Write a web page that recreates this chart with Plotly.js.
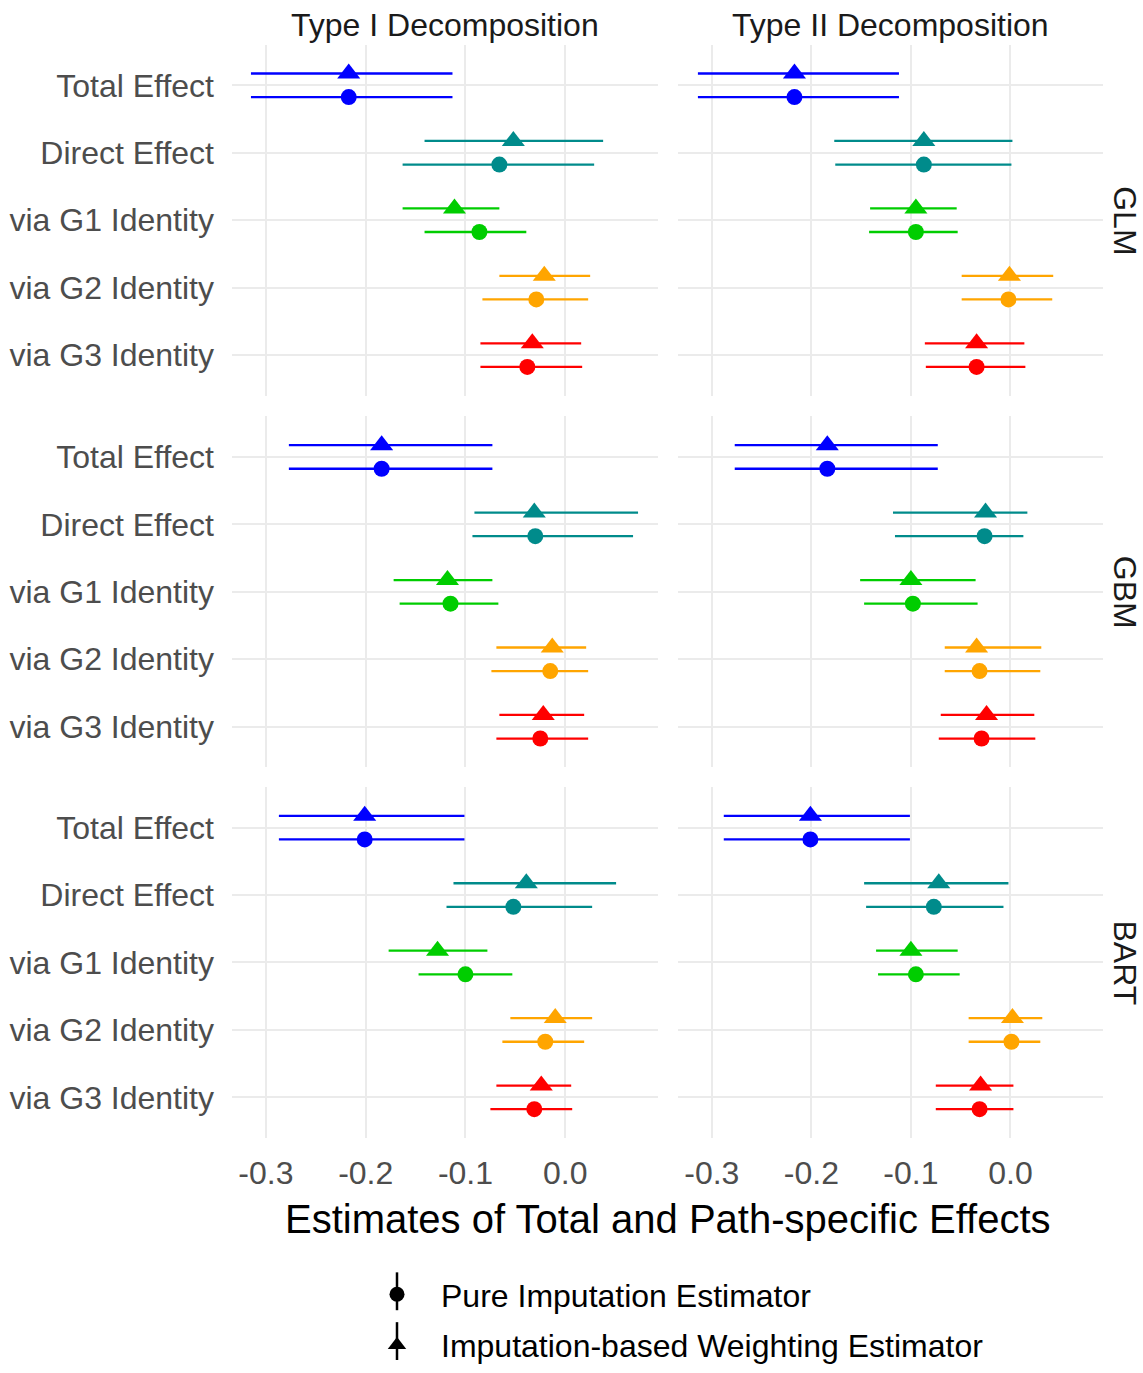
<!DOCTYPE html>
<html>
<head>
<meta charset="utf-8">
<script src="https://cdn.plot.ly/plotly-3.0.1.min.js"></script>
<style>html,body{margin:0;padding:0;background:#fff;}#chart{width:1143px;height:1373px;}</style>
</head>
<body>
<div id="chart"></div>
<script>
// ---------- data ----------
const categories = ['Total Effect', 'Direct Effect', 'via G1 Identity', 'via G2 Identity', 'via G3 Identity'];
const categoryColors = ['#0000FF', '#008B8B', '#00CD00', '#FFA500', '#FF0000'];
const models = ['GLM', 'GBM', 'BART'];
const decompositions = ['Type I Decomposition', 'Type II Decomposition'];
const estimatorNames = ['Pure Imputation Estimator', 'Imputation-based Weighting Estimator'];
const xTickVals = [-0.3, -0.2, -0.1, 0.0];
const xTickText = ['-0.3', '-0.2', '-0.1', '0.0'];

// GLM, Type I
const GLM_I_pure_est = [-0.217, -0.066, -0.086, -0.029, -0.038];
const GLM_I_pure_lo  = [-0.315, -0.163, -0.141, -0.083, -0.085];
const GLM_I_pure_hi  = [-0.113,  0.029, -0.039,  0.023,  0.017];
const GLM_I_wt_est   = [-0.217, -0.052, -0.111, -0.021, -0.033];
const GLM_I_wt_lo    = [-0.315, -0.141, -0.163, -0.066, -0.085];
const GLM_I_wt_hi    = [-0.113,  0.038, -0.066,  0.025,  0.016];
// GLM, Type II
const GLM_II_pure_est = [-0.217, -0.087, -0.095, -0.002, -0.034];
const GLM_II_pure_lo  = [-0.314, -0.176, -0.142, -0.049, -0.085];
const GLM_II_pure_hi  = [-0.112,  0.001, -0.053,  0.042,  0.015];
const GLM_II_wt_est   = [-0.217, -0.087, -0.095, -0.001, -0.034];
const GLM_II_wt_lo    = [-0.314, -0.177, -0.141, -0.049, -0.086];
const GLM_II_wt_hi    = [-0.112,  0.002, -0.054,  0.043,  0.014];
// GBM, Type I
const GBM_I_pure_est = [-0.184, -0.030, -0.115, -0.015, -0.025];
const GBM_I_pure_lo  = [-0.277, -0.093, -0.166, -0.074, -0.069];
const GBM_I_pure_hi  = [-0.073,  0.068, -0.067,  0.023,  0.023];
const GBM_I_wt_est   = [-0.184, -0.031, -0.118, -0.013, -0.022];
const GBM_I_wt_lo    = [-0.277, -0.091, -0.172, -0.069, -0.066];
const GBM_I_wt_hi    = [-0.073,  0.073, -0.073,  0.021,  0.019];
// GBM, Type II
const GBM_II_pure_est = [-0.184, -0.026, -0.098, -0.031, -0.029];
const GBM_II_pure_lo  = [-0.277, -0.116, -0.147, -0.066, -0.072];
const GBM_II_pure_hi  = [-0.073,  0.013, -0.033,  0.030,  0.025];
const GBM_II_wt_est   = [-0.184, -0.025, -0.100, -0.034, -0.024];
const GBM_II_wt_lo    = [-0.277, -0.118, -0.151, -0.066, -0.070];
const GBM_II_wt_hi    = [-0.073,  0.017, -0.035,  0.031,  0.024];
// BART, Type I
const BART_I_pure_est = [-0.201, -0.052, -0.100, -0.020, -0.031];
const BART_I_pure_lo  = [-0.287, -0.119, -0.147, -0.063, -0.075];
const BART_I_pure_hi  = [-0.101,  0.027, -0.053,  0.019,  0.007];
const BART_I_wt_est   = [-0.201, -0.039, -0.128, -0.010, -0.024];
const BART_I_wt_lo    = [-0.287, -0.112, -0.177, -0.055, -0.069];
const BART_I_wt_hi    = [-0.101,  0.051, -0.078,  0.027,  0.006];
// BART, Type II
const BART_II_pure_est = [-0.201, -0.077, -0.095,  0.001, -0.031];
const BART_II_pure_lo  = [-0.288, -0.145, -0.133, -0.042, -0.075];
const BART_II_pure_hi  = [-0.101, -0.007, -0.051,  0.030,  0.003];
const BART_II_wt_est   = [-0.201, -0.072, -0.100,  0.002, -0.030];
const BART_II_wt_lo    = [-0.288, -0.147, -0.135, -0.042, -0.075];
const BART_II_wt_hi    = [-0.101, -0.002, -0.053,  0.032,  0.003];

const panels = {
  GLM: [
    {pure: [GLM_I_pure_est, GLM_I_pure_lo, GLM_I_pure_hi], wt: [GLM_I_wt_est, GLM_I_wt_lo, GLM_I_wt_hi]},
    {pure: [GLM_II_pure_est, GLM_II_pure_lo, GLM_II_pure_hi], wt: [GLM_II_wt_est, GLM_II_wt_lo, GLM_II_wt_hi]}
  ],
  GBM: [
    {pure: [GBM_I_pure_est, GBM_I_pure_lo, GBM_I_pure_hi], wt: [GBM_I_wt_est, GBM_I_wt_lo, GBM_I_wt_hi]},
    {pure: [GBM_II_pure_est, GBM_II_pure_lo, GBM_II_pure_hi], wt: [GBM_II_wt_est, GBM_II_wt_lo, GBM_II_wt_hi]}
  ],
  BART: [
    {pure: [BART_I_pure_est, BART_I_pure_lo, BART_I_pure_hi], wt: [BART_I_wt_est, BART_I_wt_lo, BART_I_wt_hi]},
    {pure: [BART_II_pure_est, BART_II_pure_lo, BART_II_pure_hi], wt: [BART_II_wt_est, BART_II_wt_lo, BART_II_wt_hi]}
  ]
};

// ---------- layout geometry ----------
const W = 1143, H = 1373;
const colPx = [[232, 658], [678, 1103]];
const rowPx = [[45, 397], [418, 770], [790, 1142]];
const dodge = 0.175;
const FONT = 'Liberation Sans, Arial, Helvetica, sans-serif';
const FS = 32;

const traces = [];
const layout = {
  width: W, height: H,
  margin: {l: 0, r: 0, t: 0, b: 0},
  paper_bgcolor: '#ffffff', plot_bgcolor: '#ffffff',
  font: {family: FONT, size: FS, color: '#4D4D4D'},
  showlegend: true,
  legend: {
    x: 353 / W, y: 1 - 1272 / H, xanchor: 'left', yanchor: 'top',
    orientation: 'v', font: {family: FONT, size: FS, color: '#000000'},
    bgcolor: 'rgba(0,0,0,0)', itemwidth: 78, tracegroupgap: 6
  },
  annotations: [],
  shapes: []
};

const estimatorDefs = [
  {key: 'wt', symbol: 'triangle-up', size: 20, offset: -dodge},
  {key: 'pure', symbol: 'circle', size: 16, offset: dodge}
];

models.forEach((model, r) => {
  decompositions.forEach((dec, c) => {
    const k = r * 2 + c + 1;
    const xa = k === 1 ? 'x' : 'x' + k;
    const ya = k === 1 ? 'y' : 'y' + k;
    const xname = k === 1 ? 'xaxis' : 'xaxis' + k;
    const yname = k === 1 ? 'yaxis' : 'yaxis' + k;
    layout[xname] = {
      domain: [colPx[c][0] / W, colPx[c][1] / W],
      anchor: ya,
      range: [-0.334, 0.093],
      tickvals: xTickVals, ticktext: xTickText,
      showticklabels: r === 2,
      ticks: '', showline: false, zeroline: false,
      showgrid: true, gridcolor: '#EBEBEB', gridwidth: 2,
      tickfont: {family: FONT, size: FS, color: '#4D4D4D'},
      ticklabelstandoff: 13
    };
    layout[yname] = {
      domain: [1 - rowPx[r][1] / H, 1 - rowPx[r][0] / H],
      anchor: xa,
      range: [5.6, 0.4],
      tickvals: categories.map((_, i) => i + 1), ticktext: categories,
      showticklabels: c === 0,
      ticks: '', showline: false, zeroline: false,
      showgrid: true, gridcolor: '#EBEBEB', gridwidth: 2,
      tickfont: {family: FONT, size: FS, color: '#4D4D4D'},
      ticklabelstandoff: 17
    };
    const pd = panels[model][c];
    estimatorDefs.forEach(ed => {
      const [est, lo, hi] = pd[ed.key];
      categories.forEach((cat, i) => {
        traces.push({
          type: 'scatter', mode: 'markers',
          x: [est[i]], y: [i + 1 + ed.offset],
          xaxis: xa, yaxis: ya,
          marker: {symbol: ed.symbol, size: ed.size, color: categoryColors[i], line: {width: 0}},
          error_x: {type: 'data', symmetric: false, array: [hi[i] - est[i]], arrayminus: [est[i] - lo[i]],
                    color: categoryColors[i], thickness: 2.3, width: 0},
          showlegend: false, hoverinfo: 'x+name', name: cat
        });
      });
    });
    if (r === 0) {
      layout.annotations.push({
        text: dec, xref: 'paper', yref: 'paper',
        x: (colPx[c][0] + colPx[c][1]) / 2 / W, y: 1 - 25 / H,
        xanchor: 'center', yanchor: 'middle', showarrow: false,
        font: {family: FONT, size: FS, color: '#1A1A1A'}
      });
    }
    if (c === 1) {
      layout.annotations.push({
        text: model, xref: 'paper', yref: 'paper',
        x: 1125 / W, y: 1 - (rowPx[r][0] + rowPx[r][1]) / 2 / H,
        xanchor: 'center', yanchor: 'middle', showarrow: false, textangle: 90,
        font: {family: FONT, size: FS, color: '#1A1A1A'}
      });
    }
  });
});

// x-axis title
layout.annotations.push({
  text: 'Estimates of Total and Path-specific Effects', xref: 'paper', yref: 'paper',
  x: (colPx[0][0] + colPx[1][1]) / 2 / W, y: 1 - 1223 / H,
  xanchor: 'center', yanchor: 'middle', showarrow: false,
  font: {family: FONT, size: 40, color: '#000000'}
});

// legend entries (black keys with a vertical error-bar stroke)
const legendKeys = [
  {name: estimatorNames[0], symbol: 'circle', size: 15, cy: 1296},
  {name: estimatorNames[1], symbol: 'triangle-up', size: 17, cy: 1346}
];
legendKeys.forEach((d, j) => {
  traces.push({
    type: 'scatter', mode: 'markers', x: [null], y: [null], xaxis: 'x', yaxis: 'y',
    name: d.name, legendgroup: 'g' + j, showlegend: true,
    marker: {symbol: d.symbol, size: d.size, color: '#000000'}
  });
  layout.shapes.push({
    type: 'line', xref: 'paper', yref: 'paper', layer: 'above',
    x0: 397 / W, x1: 397 / W, y0: 1 - (d.cy - 19) / H, y1: 1 - (d.cy + 19) / H,
    line: {color: '#000000', width: 2.5}
  });
});

Plotly.newPlot('chart', traces, layout, {displayModeBar: false, staticPlot: true});
</script>
</body>
</html>
